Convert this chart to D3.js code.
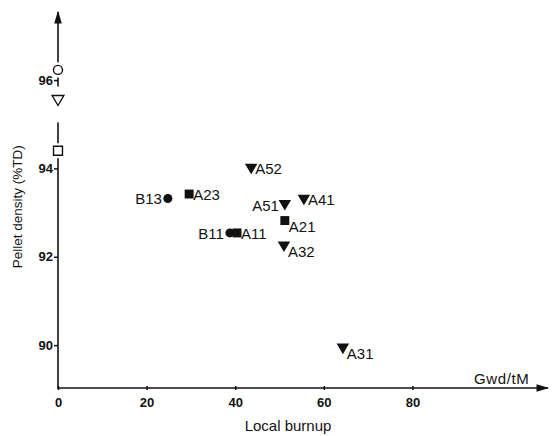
<!DOCTYPE html>
<html>
<head>
<meta charset="utf-8">
<script src="https://cdn.jsdelivr.net/npm/d3@7"></script>
<style>
  body { margin: 0; background: #fff; }
  text { font-family: "Liberation Sans", Arial, sans-serif; fill: #111; }
  .tick-label { font-size: 13px; font-weight: bold; }
  .pt-label { font-size: 15px; }
</style>
</head>
<body>
<div id="chart"></div>
<script>
// Chart values
const pointNames   = ['B13', 'A23', 'A52', 'A41', 'A51', 'A21', 'B11', 'A11', 'A32', 'A31'];
const pointShapes  = ['circle', 'square', 'triangle', 'triangle', 'triangle', 'square', 'circle', 'square', 'triangle', 'triangle'];
const burnup       = [24.8, 29.6, 43.6, 55.5, 51.2, 51.2, 38.8, 40.4, 51.0, 64.3];
const density      = [93.32, 93.42, 94.0, 93.3, 93.18, 92.82, 92.54, 92.54, 92.24, 89.93];
// label side relative to marker
const labelSide    = ['left', 'right', 'right', 'right', 'left', 'below', 'left', 'right', 'below', 'below'];

// Open markers sitting on the y axis (burnup 0)
const freshShapes  = ['circle', 'triangle', 'square'];
const freshDensity = [96.23, 95.55, 94.4];

const xTicks = [0, 20, 40, 60, 80];
const yTicks = [90, 92, 94, 96];

const width = 553, height = 436;
const margin = { top: 12, left: 58, right: 5, bottom: 48 };

const svg = d3.select('#chart')
  .append('svg')
  .attr('width', width)
  .attr('height', height);

const x = d3.scaleLinear()
  .domain([0, 110.6])
  .range([margin.left, width - margin.right]);

const y = d3.scaleLinear()
  .domain([89.03, 97.54])
  .range([height - margin.bottom, margin.top]);

const x0 = x(0), y0 = y(89.03);

// arrowhead
svg.append('defs').append('marker')
  .attr('id', 'arrow')
  .attr('viewBox', '0 0 10 10')
  .attr('refX', 9).attr('refY', 5)
  .attr('markerWidth', 8).attr('markerHeight', 8)
  .attr('orient', 'auto')
  .append('path')
  .attr('d', 'M0,2 L10,5 L0,8 Z')
  .attr('fill', '#111');

// Axes lines
svg.append('line')
  .attr('x1', x0).attr('y1', y0)
  .attr('x2', x.range()[1]).attr('y2', y0)
  .attr('stroke', '#111').attr('stroke-width', 1.6)
  .attr('marker-end', 'url(#arrow)');

svg.append('line')
  .attr('x1', x0).attr('y1', y0 + 1)
  .attr('x2', x0).attr('y2', y.range()[1])
  .attr('stroke', '#111').attr('stroke-width', 1.6)
  .attr('marker-end', 'url(#arrow)');

// Ticks
const xAxis = d3.axisBottom(x).tickValues(xTicks).tickSize(4).tickFormat(d3.format('d'));
const xg = svg.append('g').attr('transform', `translate(0,${y0 - 2})`).call(xAxis);
xg.select('.domain').remove();
xg.selectAll('line').attr('stroke', '#111').attr('stroke-width', 1.5);
xg.selectAll('text').attr('class', 'tick-label').attr('dy', '1.05em').attr('font-size', null).attr('font-family', null);

const yAxis = d3.axisLeft(y).tickValues(yTicks).tickSize(4).tickFormat(d3.format('d'));
const yg = svg.append('g').attr('transform', `translate(${x0},0)`).call(yAxis);
yg.select('.domain').remove();
yg.selectAll('line').attr('stroke', '#111').attr('stroke-width', 1.5);
yg.selectAll('text').attr('class', 'tick-label').attr('x', -5).attr('font-size', null).attr('font-family', null);

// Axis titles
svg.append('text')
  .attr('x', 474).attr('y', y0 - 4)
  .attr('font-size', 15)
  .attr('letter-spacing', 0.6)
  .text('Gwd/tM');

svg.append('text')
  .attr('x', 288).attr('y', y0 + 43)
  .attr('text-anchor', 'middle')
  .attr('font-size', 15)
  .text('Local burnup');

svg.append('text')
  .attr('transform', `translate(22,${y(93.13)}) rotate(-90)`)
  .attr('text-anchor', 'middle')
  .attr('font-size', 13.5)
  .text('Pellet density (%TD)');

// marker shapes
const symbolPath = (shape, size) => {
  if (shape === 'circle') return d3.symbol(d3.symbolCircle, size * 0.8)();
  if (shape === 'square') return d3.symbol(d3.symbolSquare, size)();
  // downward triangle
  const s = Math.sqrt(size) * 0.7;
  return `M${-s},${-s * 0.75} L${s},${-s * 0.75} L0,${s * 0.95} Z`;
};

// Open markers on the y axis, white halo breaks the axis line
const fresh = svg.append('g').attr('class', 'fresh');
freshShapes.forEach((shape, i) => {
  const size = shape === 'triangle' ? 70 : 80;
  fresh.append('path')
    .attr('transform', `translate(${x0},${y(freshDensity[i])})`)
    .attr('d', symbolPath(shape, size))
    .attr('fill', '#fff')
    .attr('stroke', '#fff')
    .attr('stroke-width', shape === 'triangle' ? 18 : 6);
  fresh.append('path')
    .attr('transform', `translate(${x0},${y(freshDensity[i])})`)
    .attr('d', symbolPath(shape, size))
    .attr('fill', '#fff')
    .attr('stroke', '#111')
    .attr('stroke-width', 1.4);
});

// Filled data points
const pts = pointNames.map((name, i) => ({
  name, shape: pointShapes[i], bu: burnup[i], rho: density[i], side: labelSide[i]
}));

const g = svg.append('g').attr('class', 'points');
g.selectAll('path')
  .data(pts)
  .enter()
  .append('path')
  .attr('transform', d => `translate(${x(d.bu)},${y(d.rho)})`)
  .attr('d', d => symbolPath(d.shape, 80))
  .attr('fill', '#111');

g.selectAll('text')
  .data(pts)
  .enter()
  .append('text')
  .attr('class', 'pt-label')
  .attr('x', d => d.side === 'left' ? x(d.bu) - 6 : x(d.bu) + 4)
  .attr('y', d => d.side === 'below' ? y(d.rho) + 11 : y(d.rho) + 6)
  .attr('text-anchor', d => d.side === 'left' ? 'end' : 'start')
  .text(d => d.name);
</script>
</body>
</html>
